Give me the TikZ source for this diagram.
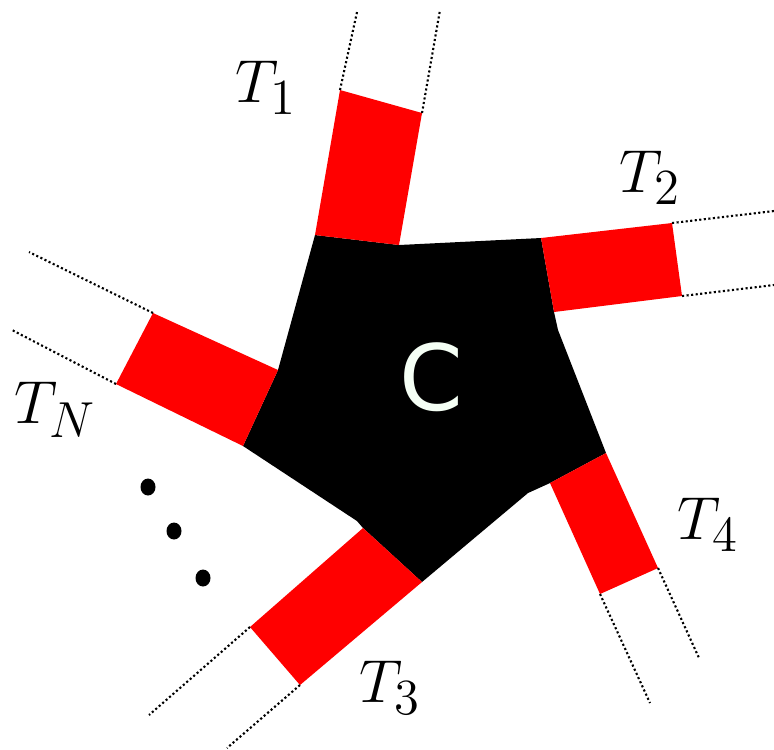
\documentclass[tikz,border=0pt]{standalone}
\usepackage{fontspec}
\newfontfamily\corefont{DejaVu Sans}
\usetikzlibrary{calc}

\begin{document}
\begin{tikzpicture}[
  x=0.1mm, y=-0.1mm,
  core/.style={fill=black},
  arm/.style={fill=red},
  lead/.style={line width=0.6pt, dash pattern=on 0.6pt off 0.7pt},
  lbl/.style={font=\fontsize{19}{22}\selectfont, inner sep=0pt},
  dotmark/.style={fill=black},
]
\useasboundingbox (0,0) rectangle (774,749);
%% Core corners
\coordinate (K1) at (315,235); \coordinate (K2) at (399,245);
\coordinate (K3) at (541,238); \coordinate (K4) at (554,312);
\coordinate (K5) at (606,453); \coordinate (K6) at (550,483);
\coordinate (K7) at (422,582); \coordinate (K8) at (363,528);
\coordinate (K9) at (243,446); \coordinate (K10) at (278,370);
%% Core
\fill[core] (K1) -- (K2) -- (K3) -- (K4) -- (558,330) -- (K5) -- (K6)
  -- (528,493) -- (K7) -- (K8) -- (357,521) -- (K9) -- (K10) -- cycle;
\node[text={rgb,1:red,0.96;green,1;blue,0.96}, font=\corefont\fontsize{26}{30}\selectfont]
  (C) at (431,377) {C};
%% Arm ends
\coordinate (A1) at (340,90);   \coordinate (B1) at (422,113);
\coordinate (A2) at (672,223);  \coordinate (B2) at (682,296);
\coordinate (A4) at (606,453);  \coordinate (B4) at (658,568);
\coordinate (C4) at (600,594);
\coordinate (A3) at (250,627);  \coordinate (B3) at (300,685);
\coordinate (AN) at (153,313);  \coordinate (BN) at (116,384);
%% Arms
\fill[arm] (K1) -- (K2) -- (B1) -- (A1) -- cycle;
\fill[arm] (K3) -- (A2) -- (B2) -- (K4) -- cycle;
\fill[arm] (K6) -- (A4) -- (B4) -- (C4) -- cycle;
\fill[arm] (K7) -- (K8) -- (A3) -- (B3) -- cycle;
\fill[arm] (K10) -- (AN) -- (BN) -- (K9) -- cycle;
%% Leads
\coordinate (E1a) at (357,12);  \coordinate (E1b) at (440,10);
\coordinate (E2a) at (774,211); \coordinate (E2b) at (774,285);
\coordinate (E4a) at (699,658); \coordinate (E4b) at (650,703);
\coordinate (E3a) at (149,715); \coordinate (E3b) at (227,748);
\coordinate (ENa) at (29,252);  \coordinate (ENb) at (12,330);
\draw[lead] (A1) -- (E1a); \draw[lead] (B1) -- (E1b);
\draw[lead] (A2) -- (E2a); \draw[lead] (B2) -- (E2b);
\draw[lead] (B4) -- (E4a); \draw[lead] (C4) -- (E4b);
\draw[lead] (A3) -- (E3a); \draw[lead] (B3) -- (E3b);
\draw[lead] (AN) -- (ENa); \draw[lead] (BN) -- (ENb);
%% Dots
\fill[dotmark] (148,487) ellipse [x radius=7.5, y radius=8.5];
\fill[dotmark] (174,531) ellipse [x radius=7.5, y radius=8.5];
\fill[dotmark] (203,578) ellipse [x radius=7.5, y radius=8.5];
%% Labels
\node[lbl] (L1) at (266,88)  {$T_1$};
\node[lbl] (L2) at (650,178) {$T_2$};
\node[lbl] (L3) at (390,688) {$T_3$};
\node[lbl] (L4) at (708,525) {$T_4$};
\node[lbl] (LN) at (55,410)  {$T_N$};
\end{tikzpicture}
\end{document}
